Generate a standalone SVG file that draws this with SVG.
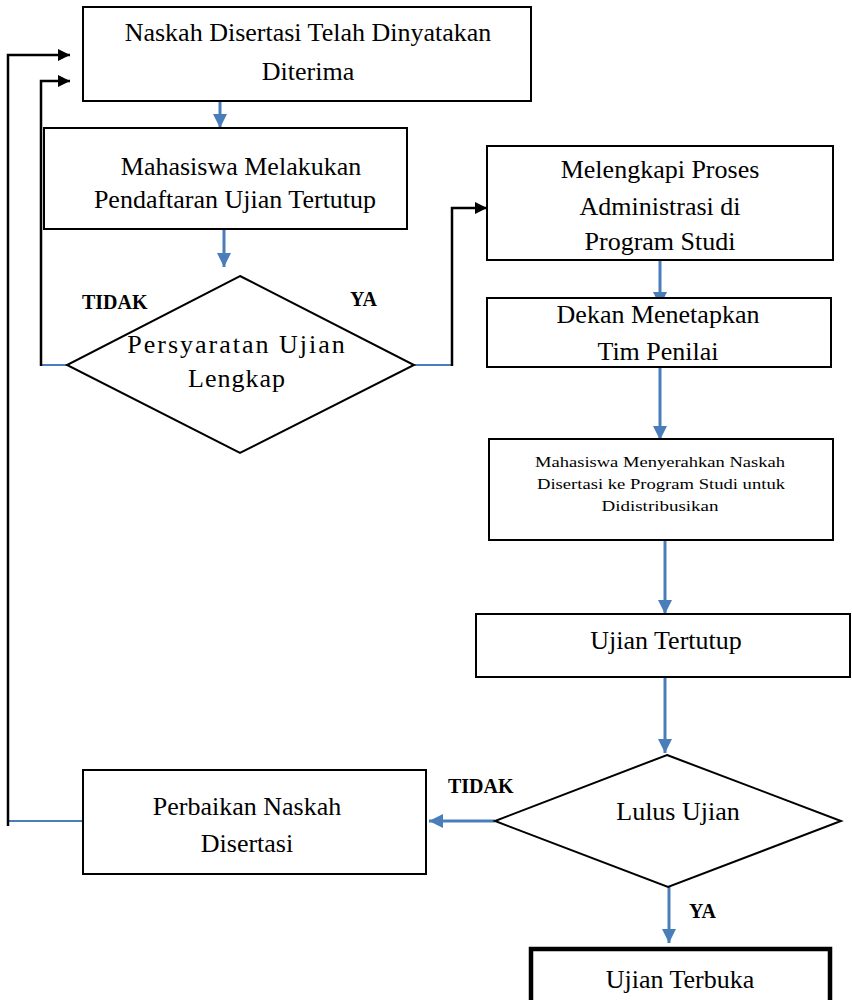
<svg xmlns="http://www.w3.org/2000/svg" width="852" height="1000" viewBox="0 0 852 1000">
<style>
.box{fill:#fff;stroke:#000;stroke-width:2}
.thick{fill:#fff;stroke:#000;stroke-width:4.5}
.t{font-family:"Liberation Serif","Times New Roman",serif;font-size:26px;fill:#000;text-anchor:middle}
.s{font-family:"Liberation Serif","Times New Roman",serif;font-size:14px;fill:#000;text-anchor:middle}
.lbl{font-family:"Liberation Serif","Times New Roman",serif;font-size:20px;font-weight:bold;fill:#000}
.blue{fill:none;stroke:#4a7ebb;stroke-width:3}
.bluethin{fill:none;stroke:#4a7ebb;stroke-width:2}
.blk{fill:none;stroke:#000;stroke-width:2.5}
</style>
<defs>
<marker id="ab" markerUnits="userSpaceOnUse" markerWidth="16" markerHeight="16" refX="14" refY="8" orient="auto">
<path d="M0,1 L14,8 L0,15 Z" fill="#4a7ebb"/>
</marker>
<marker id="ak" markerUnits="userSpaceOnUse" markerWidth="14" markerHeight="14" refX="12" refY="7" orient="auto">
<path d="M0,1 L12,7 L0,13 Z" fill="#000"/>
</marker>
</defs>
<g id="connectors">
<line class="blue" x1="220" y1="90" x2="220" y2="128" marker-end="url(#ab)"/>
<line class="blue" x1="224" y1="230" x2="224" y2="267" marker-end="url(#ab)"/>
<polyline class="bluethin" points="67,365 41,365"/>
<polyline class="blk" points="41,366 41,81 70,81" marker-end="url(#ak)"/>
<polyline class="bluethin" points="414,365 453,365"/>
<polyline class="blk" points="452,366 452,208 487,208" marker-end="url(#ak)"/>
<line class="blue" x1="660" y1="260" x2="660" y2="306" marker-end="url(#ab)"/>
<line class="blue" x1="660" y1="367" x2="660" y2="440" marker-end="url(#ab)"/>
<line class="blue" x1="665" y1="540" x2="665" y2="614" marker-end="url(#ab)"/>
<line class="blue" x1="665" y1="677" x2="665" y2="753" marker-end="url(#ab)"/>
<line class="blue" x1="495" y1="821" x2="429" y2="821" marker-end="url(#ab)"/>
<line class="blue" x1="669" y1="887" x2="669" y2="943" marker-end="url(#ab)"/>
<polyline class="bluethin" points="83,821 8,821"/>
<polyline class="blk" points="8,826 8,55 70,55" marker-end="url(#ak)"/>
</g>
<g id="n1">
<rect class="box" x="83" y="7" width="448" height="94"/>
<text class="t" x="308" y="41">Naskah Disertasi Telah Dinyatakan</text>
<text class="t" x="308" y="80">Diterima</text>
</g>
<g id="n2">
<rect class="box" x="44" y="128" width="363" height="101"/>
<text class="t" x="241" y="175">Mahasiswa Melakukan</text>
<text class="t" x="235" y="208">Pendaftaran Ujian Tertutup</text>
</g>
<g id="d1">
<polygon points="240,276 414,365 240,453 67,365" fill="#fff" stroke="#000" stroke-width="2"/>
<text class="t" x="237" y="353" letter-spacing="2">Persyaratan Ujian</text>
<text class="t" x="237" y="387" letter-spacing="1">Lengkap</text>
</g>
<text class="lbl" x="82" y="309">TIDAK</text>
<text class="lbl" x="350" y="306">YA</text>
<g id="n3">
<rect class="box" x="487" y="146" width="346" height="114"/>
<text class="t" x="660" y="178">Melengkapi Proses</text>
<text class="t" x="660" y="215">Administrasi di</text>
<text class="t" x="660" y="250">Program Studi</text>
</g>
<g id="n4">
<rect class="box" x="487" y="298" width="344" height="69"/>
<text class="t" x="658" y="323">Dekan Menetapkan</text>
<text class="t" x="658" y="360">Tim Penilai</text>
</g>
<g id="n5">
<rect class="box" x="489" y="439" width="344" height="101"/>
<text class="s" x="660" y="467" textLength="250" lengthAdjust="spacingAndGlyphs">Mahasiswa Menyerahkan Naskah</text>
<text class="s" x="661" y="489" textLength="248" lengthAdjust="spacingAndGlyphs">Disertasi ke Program Studi untuk</text>
<text class="s" x="660" y="511" textLength="117" lengthAdjust="spacingAndGlyphs">Didistribusikan</text>
</g>
<g id="n6">
<rect class="box" x="476" y="614" width="374" height="63"/>
<text class="t" x="666" y="649">Ujian Tertutup</text>
</g>
<g id="d2">
<polygon points="667,755 841,821 668,887 495,821" fill="#fff" stroke="#000" stroke-width="2"/>
<text class="t" x="678" y="820">Lulus Ujian</text>
</g>
<text class="lbl" x="448" y="793">TIDAK</text>
<text class="lbl" x="689" y="918">YA</text>
<g id="n7">
<rect class="box" x="83" y="770" width="343" height="104"/>
<text class="t" x="247" y="815">Perbaikan Naskah</text>
<text class="t" x="247" y="852">Disertasi</text>
</g>
<g id="n8">
<rect class="thick" x="531" y="949" width="299" height="60"/>
<text class="t" x="680" y="988">Ujian Terbuka</text>
</g>
</svg>
